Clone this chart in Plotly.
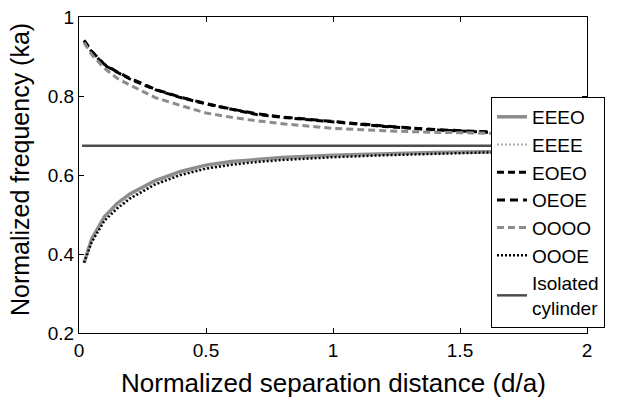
import plotly.graph_objects as go

# ---------------- data ----------------
x = [0.02, 0.05, 0.1, 0.15, 0.2, 0.3, 0.4, 0.5, 0.6, 0.7, 0.8, 1.0, 1.2, 1.4, 1.6, 1.8, 2.0]

eeeo = [0.378, 0.438, 0.494, 0.528, 0.552, 0.586, 0.609, 0.625, 0.634, 0.640, 0.644, 0.650, 0.654, 0.657, 0.659, 0.661, 0.662]
eeee = [0.378, 0.433, 0.488, 0.519, 0.544, 0.580, 0.603, 0.619, 0.629, 0.636, 0.640, 0.647, 0.652, 0.655, 0.658, 0.660, 0.661]
eoeo = [0.940, 0.912, 0.878, 0.860, 0.843, 0.816, 0.796, 0.780, 0.766, 0.753, 0.746, 0.734, 0.723, 0.714, 0.708, 0.703, 0.699]
oeoe = [0.941, 0.913, 0.880, 0.861, 0.845, 0.817, 0.797, 0.781, 0.767, 0.755, 0.747, 0.735, 0.724, 0.715, 0.709, 0.704, 0.700]
oooo = [0.935, 0.905, 0.870, 0.845, 0.828, 0.796, 0.776, 0.757, 0.746, 0.737, 0.730, 0.718, 0.712, 0.708, 0.706, 0.703, 0.700]
oooe = [0.378, 0.430, 0.484, 0.515, 0.540, 0.576, 0.600, 0.616, 0.626, 0.633, 0.638, 0.645, 0.650, 0.654, 0.657, 0.659, 0.661]
isolated_x = [0.012, 2.0]
isolated = [0.674, 0.674]

x_ticks = [0, 0.5, 1, 1.5, 2]
x_tick_labels = ["0", "0.5", "1", "1.5", "2"]
y_ticks = [0.2, 0.4, 0.6, 0.8, 1.0]
y_tick_labels = ["0.2", "0.4", "0.6", "0.8", "1"]

GREY = "#8c8c8c"
DARK = "#4d4d4d"
FONT = "Liberation Sans, Arial, sans-serif"

fig = go.Figure()
series = [
    ("EEEO", eeeo, dict(color=GREY, width=3.5, dash="solid")),
    ("EEEE", eeee, dict(color="#aaaaaa", width=2, dash="2px,2px")),
    ("EOEO", eoeo, dict(color="black", width=3, dash="7px,4px")),
    ("OEOE", oeoe, dict(color="black", width=3, dash="8px,5px")),
    ("OOOO", oooo, dict(color=GREY, width=3, dash="7px,4px")),
    ("OOOE", oooe, dict(color="black", width=2.5, dash="2px,2px")),
]
for name, ys, ln in series:
    fig.add_trace(go.Scatter(x=x, y=ys, mode="lines", name=name, line=ln))
fig.add_trace(go.Scatter(x=isolated_x, y=isolated, mode="lines",
                         name="Isolated<br>cylinder",
                         line=dict(color=DARK, width=2.5)))

axis_common = dict(
    showline=True, linecolor="black", linewidth=1, mirror="ticks",
    ticks="inside", ticklen=5, tickcolor="black", showgrid=False, zeroline=False,
    tickfont=dict(family=FONT, size=19, color="black"), automargin=False,
)
fig.update_xaxes(range=[0, 2], tickvals=x_ticks, ticktext=x_tick_labels, **axis_common)
fig.update_yaxes(range=[0.2, 1.0], tickvals=y_ticks, ticktext=y_tick_labels, **axis_common)

fig.add_annotation(text="Normalized separation distance (d/a)",
                   xref="paper", yref="paper", x=0.5, y=-0.158,
                   xanchor="center", yanchor="middle", showarrow=False,
                   font=dict(family=FONT, size=26, color="black"))
fig.add_annotation(text="Normalized frequency (ka)", textangle=-90,
                   xref="paper", yref="paper", x=-0.116, y=0.516,
                   xanchor="center", yanchor="middle", showarrow=False,
                   font=dict(family=FONT, size=25, color="black"))

fig.update_layout(
    width=630, height=398,
    margin=dict(l=79, r=43, t=17, b=65),
    paper_bgcolor="white", plot_bgcolor="white",
    font=dict(family=FONT, color="black"),
    legend=dict(x=0.811, y=0.747, xanchor="left", yanchor="top",
                bgcolor="white", bordercolor="black", borderwidth=1,
                font=dict(family=FONT, size=19, color="black"),
                itemwidth=30),
    showlegend=True,
)

fig.write_html("out.html")
